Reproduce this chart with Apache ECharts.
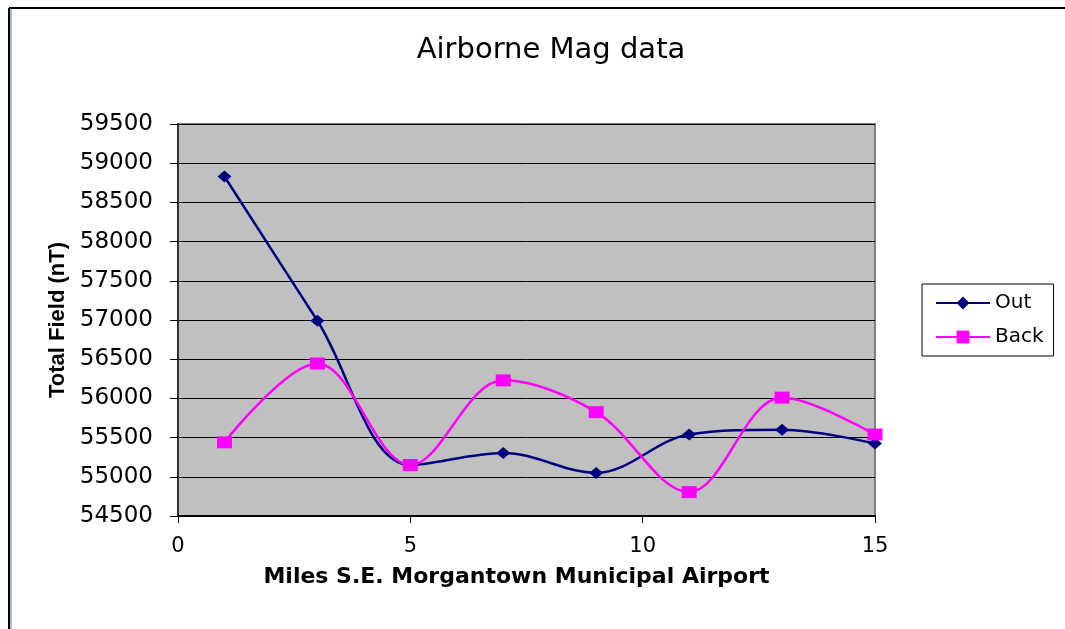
<!DOCTYPE html>
<html>
<head>
<meta charset="utf-8">
<script src="https://cdn.jsdelivr.net/npm/echarts@6/dist/echarts.min.js"></script>
<style>
html,body{margin:0;padding:0;background:#fff;}
#chart{width:1065px;height:629px;}
</style>
</head>
<body>
<div id="chart"></div>
<script>
const milesValues = [1, 3, 5, 7, 9, 11, 13, 15];
const outValues = [58830, 56990, 55150, 55305, 55050, 55540, 55600, 55425];
const backValues = [55440, 56445, 55150, 56230, 55825, 54805, 56010, 55540];
const seriesNames = ['Out', 'Back'];

const chart = echarts.init(document.getElementById('chart'));
const option = {
  backgroundColor: '#ffffff',
  animation: false,
  title: {
    text: 'Airborne Mag data',
    left: 546,
    top: 31,
    textAlign: 'center',
    textStyle: { fontFamily: 'DejaVu Sans', fontSize: 29, fontWeight: 'normal', color: '#000' }
  },
  graphic: [
    { type: 'line', shape: { x1: 9, y1: 8, x2: 1065, y2: 8 }, style: { stroke: '#000', lineWidth: 2 } },
    { type: 'line', shape: { x1: 9, y1: 8, x2: 9, y2: 629 }, style: { stroke: '#000', lineWidth: 2 } },
    { type: 'line', shape: { x1: 11, y1: 9, x2: 11, y2: 629 }, style: { stroke: '#5a7fa8', lineWidth: 1 } }
  ],
  legend: {
    orient: 'vertical',
    left: 922,
    top: 284,
    padding: [9, 10, 9, 13],
    itemGap: 14,
    itemWidth: 54,
    itemHeight: 16,
    borderColor: '#000',
    borderWidth: 1,
    textStyle: { fontFamily: 'DejaVu Sans', fontSize: 20, color: '#000' },
    data: seriesNames
  },
  grid: {
    left: 178, right: 190, top: 124, bottom: 113,
    show: true,
    backgroundColor: '#C0C0C0',
    borderColor: '#808080',
    borderWidth: 2
  },
  xAxis: {
    type: 'value',
    min: 0, max: 15, interval: 5,
    name: 'Miles S.E. Morgantown Municipal Airport',
    nameLocation: 'middle',
    nameGap: 50,
    nameTextStyle: { fontFamily: 'DejaVu Sans', fontSize: 22, fontWeight: 'bold', color: '#000', padding: [0, 20, 0, 0] },
    axisLine: { show: true, lineStyle: { color: '#000', width: 2 } },
    axisTick: { show: true, length: 7, lineStyle: { color: '#000' } },
    axisLabel: { margin: 20, fontFamily: 'DejaVu Sans', fontSize: 21, color: '#000' },
    splitLine: { show: false }
  },
  yAxis: {
    type: 'value',
    min: 54500, max: 59500, interval: 500,
    name: 'Total Field (nT)',
    nameLocation: 'middle',
    nameGap: 96,
    nameTextStyle: { fontFamily: 'Liberation Sans', fontSize: 22, fontWeight: 'bold', color: '#000' },
    axisLine: { show: true, lineStyle: { color: '#333', width: 2 } },
    axisTick: { show: true, length: 8, lineStyle: { color: '#000' } },
    axisLabel: { margin: 25, fontFamily: 'DejaVu Sans', fontSize: 23, color: '#000', formatter: v => String(v) },
    splitLine: { show: true, lineStyle: { color: '#000', width: 1 } }
  },
  series: [
    {
      name: seriesNames[0],
      type: 'line',
      smooth: 0.35,
      data: milesValues.map((m, i) => [m, outValues[i]]),
      symbol: 'diamond',
      symbolSize: [14, 12],
      itemStyle: { color: '#000080' },
      lineStyle: { color: '#000080', width: 2.5 }
    },
    {
      name: seriesNames[1],
      type: 'line',
      smooth: 0.35,
      data: milesValues.map((m, i) => [m, backValues[i]]),
      symbol: 'rect',
      symbolSize: [15, 12],
      itemStyle: { color: '#FF00FF' },
      lineStyle: { color: '#FF00FF', width: 2.5 }
    }
  ]
};
chart.setOption(option);
</script>
</body>
</html>
